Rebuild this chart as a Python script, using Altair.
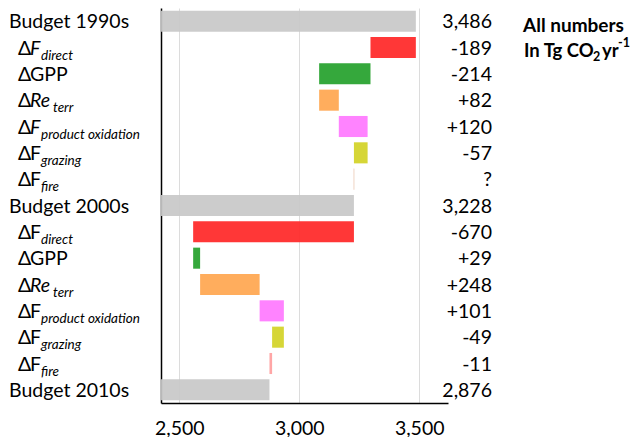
import altair as alt
import pandas as pd

# ---------------- data ----------------
row_keys = ["b1990", "dir1", "gpp1", "re1", "prod1", "graz1", "fire1",
            "b2000", "dir2", "gpp2", "re2", "prod2", "graz2", "fire2", "b2010"]
row_kinds = ["budget", "F_direct", "GPP", "Re", "F_prod", "F_graz", "F_fire",
             "budget", "F_direct", "GPP", "Re", "F_prod", "F_graz", "F_fire", "budget"]
budgets = [3486, 3228, 2876]
changes_1990s = [-189, -214, 82, 120, -57, None]   # fire: "?"
changes_2000s = [-670, 29, 248, 101, -49, -11]
value_labels = ["3,486", "-189", "-214", "+82", "+120", "-57", "?",
                "3,228", "-670", "+29", "+248", "+101", "-49", "-11", "2,876"]
label_main = ["Budget 1990s", "F", "GPP", "Re", "F", "F", "F",
              "Budget 2000s", "F", "GPP", "Re", "F", "F", "F", "Budget 2010s"]
label_sub = ["", "direct", "", "terr", "product oxidation", "grazing", "fire",
             "", "direct", "", "terr", "product oxidation", "grazing", "fire", ""]
label_italic = [False, True, False, True, True, False, False,
                False, False, False, True, False, False, False, False]
x_ticks = [2500, 3000, 3500]

kind_domain = ["budget", "F_direct", "GPP", "Re", "F_prod", "F_graz", "F_fire"]
kind_colors = ["#c8c8c8", "#ff2626", "#24a12b", "#ffa64f", "#ff78ff", "#d3d326", "#ff9e9e"]

# ---------------- build table ----------------
starts, ends, unknown = [], [], []
sections = [(budgets[0], changes_1990s), (budgets[1], changes_2000s)]
for b, chs in sections:
    starts.append(0); ends.append(b); unknown.append(False)
    run = b
    for c in chs:
        if c is None:
            starts.append(run); ends.append(run); unknown.append(True)
        else:
            starts.append(run); ends.append(run + c); unknown.append(False)
            run = run + c
starts.append(0); ends.append(budgets[2]); unknown.append(False)

df = pd.DataFrame({
    "key": row_keys, "kind": row_kinds, "start": starts, "end": ends,
    "unknown": unknown, "vlabel": value_labels, "main": label_main,
    "sub": label_sub, "italic": label_italic,
})

FONT = "Lato"
FS = 19.5
SUBFS = 13.5

y_enc = alt.Y("key:N", sort=row_keys,
              scale=alt.Scale(paddingInner=0.2, paddingOuter=0.1),
              axis=alt.Axis(labels=False, ticks=False, title=None, grid=False,
                            domainColor="black", domainWidth=1.5))

base = alt.Chart(df)

bars = base.transform_filter("!datum.unknown").mark_bar(clip=True, opacity=0.92).encode(
    x=alt.X("start:Q", scale=alt.Scale(domain=[2424, 3620], nice=False, zero=False),
            axis=alt.Axis(values=x_ticks, format=",.0f", grid=True, gridColor="#dcdcdc",
                          ticks=False, domainColor="black", domainWidth=1.5,
                          labelFont=FONT, labelFontSize=FS, labelColor="black",
                          labelPadding=16, title=None)),
    x2="end:Q",
    y=y_enc,
    color=alt.Color("kind:N", scale=alt.Scale(domain=kind_domain, range=kind_colors), legend=None),
)

unk = base.transform_filter("datum.unknown").mark_bar(stroke="#f4e2d8", strokeWidth=1, fill="#f4e2d8").encode(
    x="start:Q", x2="end:Q", y=y_enc)

def txt(filt, x, text, dy, size=FS, style="normal", weight="normal", align="left"):
    return base.transform_filter(filt).mark_text(
        align=align, baseline="alphabetic", dy=dy, font=FONT, fontSize=size,
        fontStyle=style, fontWeight=weight, color="black").encode(
        x=alt.value(x), y=y_enc, text=text)

budget_lbl = txt("datum.kind == 'budget'", -152, "main:N", 7)
delta_lbl = txt("datum.kind != 'budget'", -143, alt.value("Δ"), 7)
main_up = txt("datum.kind != 'budget' && !datum.italic", -131, "main:N", 7)
main_it = txt("datum.kind != 'budget' && datum.italic", -131, "main:N", 7, style="italic")
sub_f = txt("datum.sub != '' && datum.kind != 'Re'", -120, "sub:N", 12, size=SUBFS, style="italic")
sub_re = txt("datum.kind == 'Re'", -108, "sub:N", 12, size=SUBFS, style="italic")

vals = txt("true", 331, "vlabel:N", 7, align="right")

NFS = 18.5
note1 = txt("datum.key == 'b1990'", 362, alt.value("All numbers"), 11, size=19, weight="bold")
note2a = txt("datum.key == 'dir1'", 363, alt.value("In Tg CO"), 9, size=NFS, weight="bold")
note2b = txt("datum.key == 'dir1'", 432, alt.value("2"), 13, size=12.5, weight="bold")
note2c = txt("datum.key == 'dir1'", 441, alt.value("yr"), 9, size=NFS, weight="bold")
note2d = txt("datum.key == 'dir1'", 457, alt.value("-1"), -1, size=12.5, weight="bold")

chart = alt.layer(bars, unk, budget_lbl, delta_lbl, main_up, main_it, sub_f, sub_re,
                  vals, note1, note2a, note2b, note2c, note2d).properties(
    width=287, height=395,
    autosize=alt.AutoSizeParams(type="none"),
    padding={"left": 153, "top": 0, "right": 183, "bottom": 34},
).configure_view(stroke=None)

chart.save("out.html", embed_options={"renderer": "svg", "actions": False})
